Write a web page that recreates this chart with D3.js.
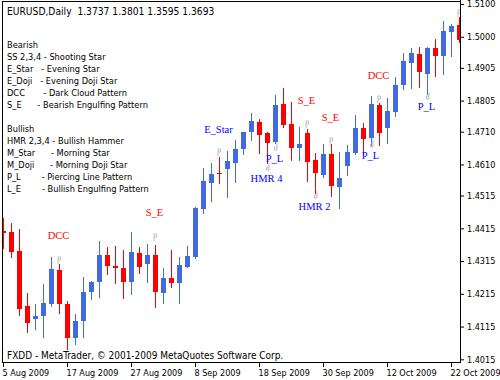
<!DOCTYPE html>
<html><head><meta charset="utf-8">
<script src="https://cdn.jsdelivr.net/npm/d3@7"></script>
<style>
html,body{margin:0;padding:0;background:#fff;}
svg{display:block;}
.ui{font-family:"DejaVu Sans Condensed","DejaVu Sans",sans-serif;font-size:9px;fill:#000;white-space:pre;}
.pat{font-family:"Liberation Serif","DejaVu Serif",serif;font-size:10.5px;}
</style></head><body>
<svg id="chart" width="500" height="380"></svg>
<script>
// ---------- data ----------
const titleText = "EURUSD,Daily  1.3737 1.3801 1.3595 1.3693";
const footerText = "FXDD - MetaTrader, \u00A9 2001-2009 MetaQuotes Software Corp.";
const firstDate = new Date(2009, 7, 5);

const opens  = [1.4407,1.4404,1.4346,1.4178,1.4138,1.4148,1.4184,1.4288,1.4184,1.4080,
                1.4132,1.4221,1.4251,1.4334,1.4300,1.4294,1.4251,1.4340,1.4306,1.4334,
                1.4218,1.4264,1.4248,1.4297,1.4328,1.4474,1.4553,1.4583,1.4596,1.4615,
                1.4657,1.4709,1.4740,1.4705,1.4679,1.4795,1.4734,1.4660,1.4706,1.4624,
                1.4578,1.4642,1.4541,1.4605,1.4645,1.4721,1.4691,1.4792,1.4721,1.4770,
                1.4853,1.4920,1.4947,1.4886,1.4966,1.4941,1.5014,1.5036];
const highs  = [1.4447,1.4431,1.4413,1.4218,1.4184,1.4245,1.4328,1.4306,1.4193,1.4154,
                1.4267,1.4254,1.4376,1.4358,1.4361,1.4349,1.4404,1.4358,1.4367,1.4364,
                1.4294,1.4349,1.4328,1.4361,1.4480,1.4599,1.4615,1.4633,1.4651,1.4685,
                1.4710,1.4767,1.4749,1.4710,1.4822,1.4844,1.4801,1.4725,1.4718,1.4645,
                1.4673,1.4673,1.4648,1.4670,1.4761,1.4737,1.4819,1.4798,1.4813,1.4877,
                1.4950,1.4966,1.4969,1.4968,1.4993,1.5048,1.5039,1.5060];
const lows   = [1.4355,1.4328,1.4151,1.4099,1.4108,1.4083,1.4178,1.4157,1.4047,1.4062,
                1.4083,1.4199,1.4206,1.4276,1.4248,1.4202,1.4215,1.4279,1.4251,1.4175,
                1.4187,1.4236,1.4187,1.4296,1.4325,1.4462,1.4499,1.4553,1.4511,1.4557,
                1.4642,1.4685,1.4645,1.4615,1.4676,1.4725,1.4624,1.4624,1.4560,1.4523,
                1.4572,1.4514,1.4477,1.4578,1.4643,1.4642,1.4670,1.4670,1.4676,1.4758,
                1.4840,1.4844,1.4847,1.4825,1.4880,1.4886,1.4941,1.4984];
const closes = [1.4401,1.4343,1.4169,1.4126,1.4148,1.4187,1.4291,1.4184,1.4080,1.4132,
                1.4221,1.4251,1.4334,1.4300,1.4294,1.4251,1.4343,1.4297,1.4334,1.4221,
                1.4264,1.4248,1.4303,1.4331,1.4477,1.4560,1.4581,1.4580,1.4621,1.4657,
                1.4709,1.4743,1.4700,1.4676,1.4792,1.4731,1.4660,1.4673,1.4618,1.4584,
                1.4642,1.4544,1.4569,1.4648,1.4721,1.4688,1.4795,1.4706,1.4773,1.4853,
                1.4926,1.4950,1.4892,1.4966,1.4941,1.5018,1.5033,1.4990];

const priceTicks = [1.5100,1.5000,1.4905,1.4805,1.4710,1.4610,1.4515,1.4415,1.4315,1.4215,1.4115,1.4015];
const dateTickStep = 8;

const legendLines = [
  "Bearish",
  "SS 2,3,4 - Shooting Star",
  "E_Star   - Evening Star",
  "E_Doji   - Evening Doji Star",
  "DCC       - Dark Cloud Pattern",
  "S_E      - Bearish Engulfing Pattern",
  "",
  "Bullish",
  "HMR 2,3,4 - Bullish Hammer",
  "M_Star      - Morning Star",
  "M_Doji      - Morning Doji Star",
  "P_L        - Piercing Line Pattern",
  "L_E        - Bullish Engulfing Pattern"
];

const labelBars   = [7, 19, 27, 33, 34, 38, 39, 41, 46, 47, 53];
const labelTexts  = ["DCC","S_E","E_Star","HMR 4","P_L","S_E","HMR 2","S_E","P_L","DCC","P_L"];
const labelPrices = [1.4392,1.4462,1.4718,1.4567,1.4628,1.4805,1.4480,1.4752,1.4637,1.4882,1.4786];

const markerBars   = [7, 19, 27, 33, 34, 38, 39, 41, 46, 47, 53, 57];
const markerPrices = [1.4317,1.4387,1.4648,1.4602,1.4663,1.4734,1.4517,1.4682,1.4673,1.4810,1.4819,1.5071];
const markerSides  = ["above","above","above","below","below","above","below","above","below","above","below","above"];

// ---------- layout ----------
const W = 500, H = 380;
const plotL = 2, plotT = 1, plotR = 460, plotB = 362;
const UP = "#4169E1", DN = "#FF0000";
const labelColor = {"DCC": "#FF0000", "S_E": "#FF0000", "E_Star": "#0000FF", "HMR 4": "#0000FF", "HMR 2": "#0000FF", "P_L": "#0000FF"};

const n = opens.length;
const dates = [];
{ const d = new Date(firstDate); while (dates.length < n) { const wd = d.getDay(); if (wd !== 0 && wd !== 6) dates.push(new Date(d)); d.setDate(d.getDate() + 1); } }
const bars = d3.range(n).map(i => ({i, date: dates[i], o: opens[i], h: highs[i], l: lows[i], c: closes[i]}));

const x = d3.scaleBand().domain(dates).range([-0.5, 463.5]).paddingInner(0.375).paddingOuter(0.1875);
const y = d3.scaleLinear().domain([1.4015, 1.5100]).range([359.3, 4]);
const bw = x.bandwidth();
const cx = d => x(d) + bw / 2;

const svg = d3.select("#chart");
svg.append("rect").attr("width", W).attr("height", H).attr("fill", "#fff");

svg.append("defs").append("clipPath").attr("id", "plotclip")
  .append("rect").attr("x", plotL + 1).attr("y", plotT + 1).attr("width", plotR - plotL - 1).attr("height", plotB - plotT - 1);

// header & legend
svg.append("text").attr("class", "ui").attr("xml:space", "preserve").style("font-size", "10.2px")
  .attr("x", 7).attr("y", 11).attr("dy", "0.36em").text(titleText);
svg.append("g").selectAll("text").data(legendLines).join("text")
  .attr("class", "ui").attr("xml:space", "preserve").style("font-size", "9.2px")
  .attr("x", 7).attr("y", (d, i) => 44.5 + 12 * i).attr("dy", "0.36em").text(d => d);
svg.append("text").attr("class", "ui").attr("xml:space", "preserve").style("font-size", "9.95px")
  .attr("x", 7).attr("y", 355).attr("dy", "0.36em").text(footerText);

// candles
const cg = svg.append("g").attr("clip-path", "url(#plotclip)");
const cand = cg.selectAll("g.c").data(bars).join("g").attr("class", "c");
cand.append("line")
  .attr("x1", d => cx(d.date)).attr("x2", d => cx(d.date))
  .attr("y1", d => Math.round(y(d.h))).attr("y2", d => Math.round(y(d.l)) + 1)
  .attr("stroke", d => d.c >= d.o ? UP : DN).attr("stroke-width", 1);
cand.append("rect")
  .attr("x", d => x(d.date)).attr("width", bw)
  .attr("y", d => Math.round(y(Math.max(d.o, d.c))))
  .attr("height", d => Math.max(1, Math.round(y(Math.min(d.o, d.c))) - Math.round(y(Math.max(d.o, d.c)))))
  .attr("fill", d => d.c >= d.o ? UP : DN);

// markers
cg.selectAll("path.mk").data(markerBars.map((b, i) => ({b, p: markerPrices[i], s: markerSides[i]}))).join("path")
  .attr("class", "mk")
  .attr("fill", "none").attr("stroke", "#BDBDBD").attr("stroke-width", 1)
  .attr("d", d => {
    const X = Math.round(cx(dates[d.b])) - 0.5, Y = Math.round(y(d.p));
    if (d.s === "above") {
      return `M${X - 1.5},${Y - 3}V${Y + 4}M${X - 1.5},${Y - 3}h2.5v3h-2.5`;
    }
    return `M${X + 1.5},${Y - 4}V${Y + 3}M${X + 1.5},${Y + 3}h-2.5v-3h2.5`;
  });

// pattern labels
cg.selectAll("text.pat").data(labelBars.map((b, i) => ({b, t: labelTexts[i], p: labelPrices[i]}))).join("text")
  .attr("class", "pat")
  .attr("x", d => cx(dates[d.b]) - 1).attr("y", d => y(d.p)).attr("dy", "0.33em")
  .attr("text-anchor", "middle")
  .attr("fill", d => labelColor[d.t] || "#0000FF")
  .text(d => d.t);

// frame
const frame = svg.append("g").attr("stroke", "#000").attr("stroke-width", 1).attr("fill", "none");
frame.append("line").attr("x1", plotL).attr("x2", plotR + 1).attr("y1", plotT + 0.5).attr("y2", plotT + 0.5);
frame.append("line").attr("x1", plotL + 0.5).attr("x2", plotL + 0.5).attr("y1", plotT).attr("y2", plotB + 1);
frame.append("line").attr("x1", plotR + 0.5).attr("x2", plotR + 0.5).attr("y1", 0).attr("y2", plotB + 1);
frame.append("line").attr("x1", plotL).attr("x2", plotR + 1).attr("y1", plotB + 0.5).attr("y2", plotB + 0.5);

// y axis (right)
const yAxis = svg.append("g").attr("transform", `translate(${plotR + 1},0)`)
  .call(d3.axisRight(y).tickValues(priceTicks).tickFormat(d3.format(".4f")).tickSize(3).tickPadding(3).tickSizeOuter(0));
yAxis.select(".domain").remove();
yAxis.selectAll("text").attr("class", "ui").attr("fill", "#000");
yAxis.selectAll("line").attr("stroke", "#000");

// x axis (bottom)
const tickDates = dates.filter((d, i) => i % dateTickStep === 0);
const xAxis = svg.append("g").attr("transform", `translate(0,${plotB + 1})`)
  .call(d3.axisBottom(x).tickValues(tickDates).tickFormat(d3.timeFormat("%-d %b %Y")).tickSize(4).tickSizeOuter(0));
xAxis.select(".domain").remove();
xAxis.selectAll("line").attr("stroke", "#000");
xAxis.selectAll("text").attr("class", "ui").attr("fill", "#000")
  .attr("text-anchor", "start").attr("x", -1).attr("y", 12.5).attr("dy", 0);
</script>
</body></html>
